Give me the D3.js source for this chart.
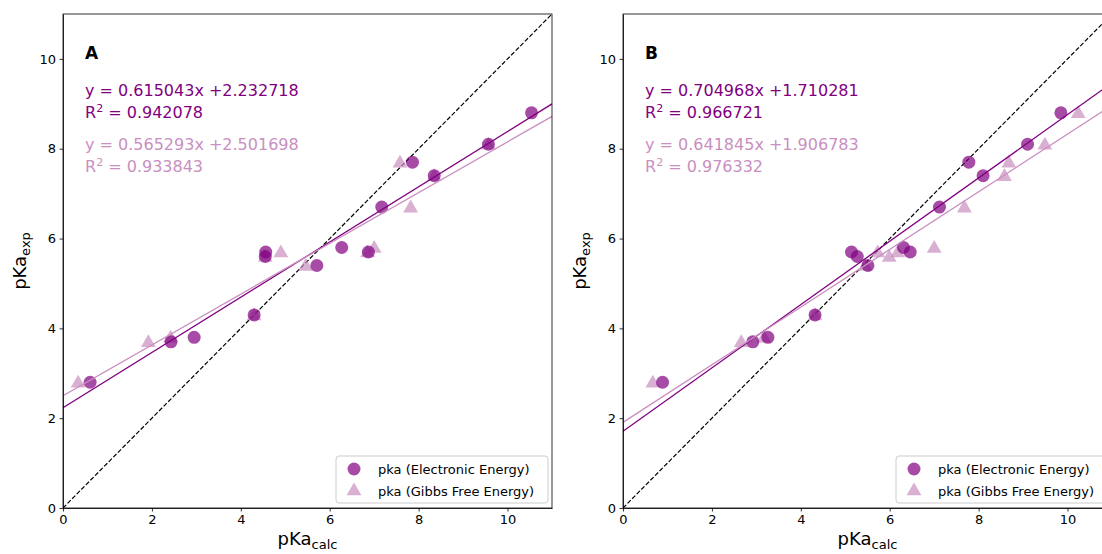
<!DOCTYPE html>
<html>
<head>
<meta charset="utf-8" />
<script src="https://d3js.org/d3.v7.min.js"></script>
<style>
  body { margin: 0; background: white; }
  text { font-family: "DejaVu Sans", sans-serif; }
  .axis path, .axis line { stroke: black; stroke-width: 0.8; }
  .axis text { font-size: 13px; fill: black; }
</style>
</head>
<body>
<script>
// values
var yExp = [2.8, 3.7, 3.8, 4.3, 5.7, 5.6, 5.4, 5.8, 5.7, 6.7, 7.7, 7.4, 8.1, 8.8];

var elecA = [0.61, 2.43, 2.95, 4.30, 4.56, 4.55, 5.71, 6.27, 6.87, 7.17, 7.86, 8.35, 9.57, 10.54];
var gibbsAx = [0.34, 1.92, 2.42, 4.30, 4.55, 4.90, 5.46, 6.85, 7.00, 7.82, 7.58, 8.35, 9.57, 11.15];
var gibbsAy = [2.8, 3.7, 3.8, 4.3, 5.6, 5.7, 5.4, 5.7, 5.8, 6.7, 7.7, 7.4, 8.1, 8.8];

var elecB = [0.89, 2.92, 3.26, 4.32, 5.14, 5.27, 5.51, 6.31, 6.46, 7.12, 7.78, 8.10, 9.10, 9.85];
var gibbsBx = [0.67, 2.66, 3.17, 4.32, 5.45, 5.73, 5.99, 6.18, 7.00, 7.68, 8.58, 8.68, 9.49, 10.24];
var gibbsBy = [2.8, 3.7, 3.8, 4.3, 5.4, 5.7, 5.6, 5.7, 5.8, 6.7, 7.4, 7.7, 8.1, 8.8];

// fit coefficients as printed on the chart
var fitA = [{m: 0.615043, b: 2.232718, r2: "0.942078"}, {m: 0.565293, b: 2.501698, r2: "0.933843"}];
var fitB = [{m: 0.704968, b: 1.710281, r2: "0.966721"}, {m: 0.641845, b: 1.906783, r2: "0.976332"}];

var ticks = [0, 2, 4, 6, 8, 10];
var legendLabels = ["pka (Electronic Energy)", "pka (Gibbs Free Energy)"];

var colElec = "#800080", colGibbs = "#c98fbf";

var W = 1102, H = 554;
var pw = 489, ph = 494;

var svg = d3.select("body").append("svg")
    .attr("width", W)
    .attr("height", H);

var x = d3.scaleLinear().domain([0, 11]).range([0, pw]),
    y = d3.scaleLinear().domain([0, 11]).range([ph, 0]);

var tri = d3.symbol().type(d3.symbolTriangle).size(95);

function panel(left, label, ex, gx, gy, fits, id) {
  var g = svg.append("g").attr("transform", "translate(" + left + ",14)");

  g.append("clipPath").attr("id", "clip" + id)
    .append("rect").attr("width", pw).attr("height", ph);

  var plot = g.append("g").attr("clip-path", "url(#clip" + id + ")");

  // 1:1 line
  plot.append("line")
    .attr("x1", x(0)).attr("y1", y(0))
    .attr("x2", x(11)).attr("y2", y(11))
    .attr("stroke", "black").attr("stroke-width", 1.2)
    .attr("stroke-dasharray", "4.5,2");

  // triangles (gibbs)
  plot.selectAll(".tri").data(gx).enter().append("path")
    .attr("d", tri)
    .attr("transform", function(d, i) { return "translate(" + x(d) + "," + (y(gy[i]) + 1) + ")"; })
    .attr("fill", colGibbs).attr("fill-opacity", 0.7);

  // circles (electronic)
  plot.selectAll(".dot").data(ex).enter().append("circle")
    .attr("cx", function(d) { return x(d); })
    .attr("cy", function(d, i) { return y(yExp[i]); })
    .attr("r", 6.5)
    .attr("fill", colElec).attr("fill-opacity", 0.7);

  // fit lines
  fits.forEach(function(f, k) {
    plot.append("line")
      .attr("x1", x(0)).attr("y1", y(f.b))
      .attr("x2", x(11)).attr("y2", y(f.m * 11 + f.b))
      .attr("stroke", k == 0 ? colElec : colGibbs)
      .attr("stroke-width", 1.3);
  });

  // frame
  g.append("rect").attr("width", pw).attr("height", ph)
    .attr("fill", "none").attr("stroke", "black").attr("stroke-width", 0.8);

  g.append("g").attr("class", "axis")
    .attr("transform", "translate(0," + ph + ")")
    .call(d3.axisBottom(x).tickValues(ticks).tickSize(3.5).tickPadding(3.5).tickSizeOuter(0));
  g.append("g").attr("class", "axis")
    .call(d3.axisLeft(y).tickValues(ticks).tickSize(3.5).tickPadding(3.5).tickSizeOuter(0));

  // axis labels
  var xl = g.append("text").attr("x", pw / 2).attr("y", ph + 37)
    .attr("text-anchor", "middle").style("font-size", "18px");
  xl.append("tspan").text("pKa");
  xl.append("tspan").attr("dy", 4).style("font-size", "13px").text("calc");

  var yl = g.append("text")
    .attr("transform", "translate(" + (-37) + "," + (ph / 2) + ")rotate(-90)")
    .attr("text-anchor", "middle").style("font-size", "18px");
  yl.append("tspan").text("pKa");
  yl.append("tspan").attr("dy", 4).style("font-size", "13px").text("exp");

  // panel letter
  g.append("text").attr("x", 22).attr("y", 45)
    .style("font-size", "17px").style("font-weight", "bold").text(label);

  // equations
  fits.forEach(function(f, k) {
    var c = k == 0 ? colElec : colGibbs;
    var y0 = 82 + k * 54;
    g.append("text").attr("x", 22).attr("y", y0)
      .attr("fill", c).style("font-size", "16px")
      .text("y = " + f.m.toFixed(6) + "x +" + f.b.toFixed(6));
    var t = g.append("text").attr("x", 22).attr("y", y0 + 22)
      .attr("fill", c).style("font-size", "16px");
    t.append("tspan").text("R");
    t.append("tspan").attr("dy", -6.5).style("font-size", "11px").text("2");
    t.append("tspan").attr("dy", 6.5).text(" = " + f.r2);
  });

  // legend
  var lg = g.append("g").attr("transform", "translate(" + (pw - 216) + "," + (ph - 52) + ")");
  lg.append("rect").attr("width", 212).attr("height", 47).attr("rx", 3)
    .attr("fill", "white").attr("fill-opacity", 0.8)
    .attr("stroke", "#cccccc").attr("stroke-width", 1);
  lg.append("circle").attr("cx", 18).attr("cy", 13).attr("r", 6.5)
    .attr("fill", colElec).attr("fill-opacity", 0.7);
  lg.append("path").attr("d", tri).attr("transform", "translate(18,35)")
    .attr("fill", colGibbs).attr("fill-opacity", 0.7);
  legendLabels.forEach(function(s, i) {
    lg.append("text").attr("x", 42).attr("y", 18 + i * 21.5)
      .style("font-size", "13px").text(s);
  });
}

panel(63, "A", elecA, gibbsAx, gibbsAy, fitA, "a");
panel(623, "B", elecB, gibbsBx, gibbsBy, fitB, "b");
</script>
</body>
</html>
